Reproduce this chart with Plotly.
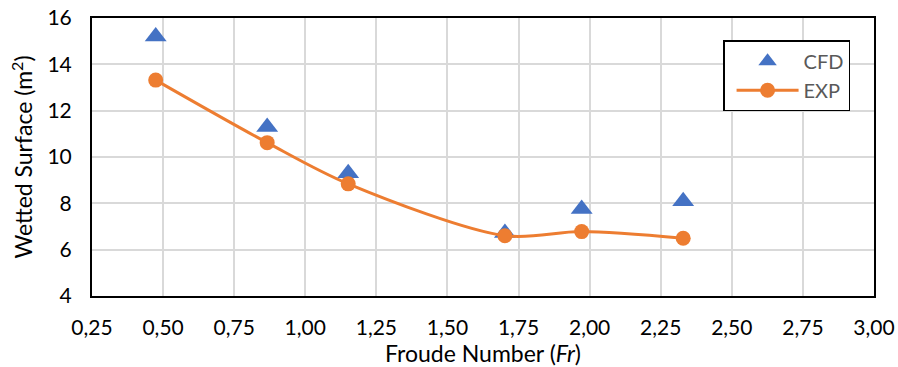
import plotly.graph_objects as go

fr = [0.474, 0.866, 1.151, 1.702, 1.972, 2.329]
cfd = [15.2, 11.3, 9.3, 6.72, 7.76, 8.09]
exp_vals = [13.32, 10.62, 8.84, 6.6, 6.78, 6.49]

x_ticks = [0.25, 0.5, 0.75, 1.0, 1.25, 1.5, 1.75, 2.0, 2.25, 2.5, 2.75, 3.0]
y_ticks = [4, 6, 8, 10, 12, 14, 16]

FONT = "Lato"

fig = go.Figure()
fig.add_trace(go.Scatter(
    x=fr, y=cfd, mode="markers", name="CFD", legendgroup="a",
    marker=dict(symbol="triangle-up", size=19, color="#4472C4"),
))
fig.add_trace(go.Scatter(
    x=fr, y=exp_vals, mode="lines+markers", name="EXP", legendgroup="b",
    line=dict(color="#ED7D31", width=3, shape="spline", smoothing=0.9),
    marker=dict(symbol="circle", size=15, color="#ED7D31"),
))

fig.update_layout(
    width=898, height=367,
    margin=dict(l=92, r=24, t=18, b=71, autoexpand=False),
    paper_bgcolor="white", plot_bgcolor="white",
    separators=",.",
    font=dict(family=FONT, color="#000000", size=21),
    showlegend=True,
    legend=dict(
        x=0.807, y=0.92, xanchor="left", yanchor="top",
        bgcolor="white", bordercolor="black", borderwidth=1.5,
        font=dict(family=FONT, size=20, color="#595959"),
        itemwidth=62, tracegroupgap=0, traceorder="grouped",
        indentation=7,
    ),
    xaxis=dict(
        range=[0.25, 3.0], tickvals=x_ticks, tickformat=".2f",
        showgrid=True, gridcolor="#D9D9D9", gridwidth=1.5,
        showline=True, linecolor="black", linewidth=2, mirror=True,
        zeroline=False, ticks="", tickfont=dict(size=21),
        ticklabelstandoff=12,
        title=dict(text="Froude Number (<i>Fr</i>)", font=dict(size=23), standoff=2),
    ),
    yaxis=dict(
        range=[4, 16], tickvals=y_ticks,
        showgrid=True, gridcolor="#D9D9D9", gridwidth=1.5,
        showline=True, linecolor="black", linewidth=2, mirror=True,
        zeroline=False, ticks="", tickfont=dict(size=21),
        ticklabelstandoff=14,
        title=dict(text="Wetted Surface (m<sup>2</sup>)", font=dict(size=23), standoff=8),
    ),
)

fig.write_html("out.html")
